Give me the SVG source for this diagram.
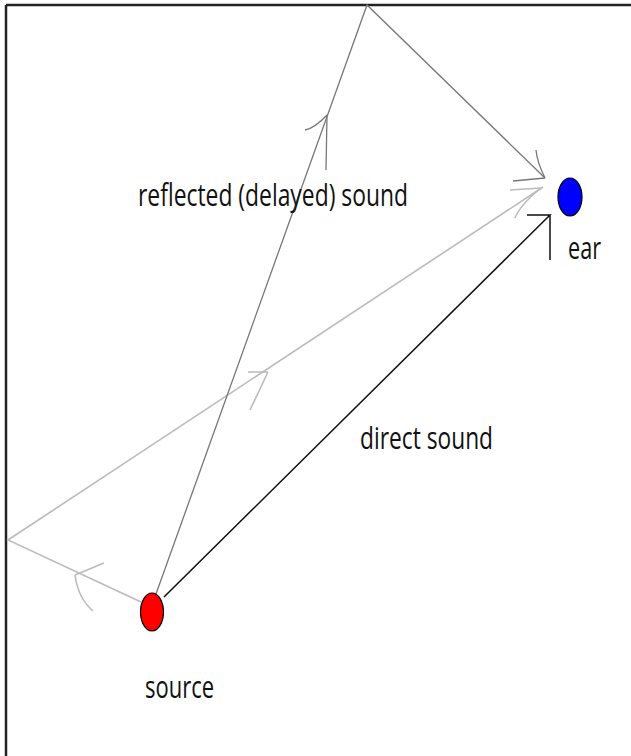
<svg xmlns="http://www.w3.org/2000/svg" width="631" height="756" viewBox="0 0 631 756">
<style>
.t{font-family:"Open Sans","DejaVu Sans",sans-serif;font-size:31px;fill:#111}
.dg{stroke:#777;stroke-width:1.3;fill:none}
.lg{stroke:#bbb;stroke-width:1.6;fill:none}
.bk{stroke:#111;stroke-width:1.5;fill:none}
</style>
<rect width="631" height="756" fill="#fff"/>
<g id="frame">
<line x1="6" y1="5" x2="631" y2="5" stroke="#222" stroke-width="2.5"/>
<line x1="6" y1="5" x2="6" y2="756" stroke="#222" stroke-width="2.5"/>
</g>
<g id="connectors">
<path class="lg" d="M141,602 L8,540 L543,187"/>
<path class="lg" d="M75,575 L104,563 M75,575 Q78,598 93,611"/>
<path class="lg" d="M268,372 L248,372 M268,372 L250,410"/>
<path class="lg" d="M541,188 L510,190 M541,188 Q520,205 515,218"/>
<path class="dg" d="M156,594 L367,5 L545,178"/>
<path class="dg" d="M327,115 L326,170 M327,115 Q315,128 305,130"/>
<path class="dg" d="M545,178 L513,181 M545,178 Q537,162 536,150"/>
<path class="bk" d="M164,597 L550,215 L527,215 M550,215 L550,260"/>
</g>
<g id="source">
<ellipse cx="152" cy="612" rx="11.5" ry="19" fill="#f00" stroke="#000" stroke-width="1.2"/>
<text class="t" x="145" y="698" textLength="69" lengthAdjust="spacingAndGlyphs">source</text>
</g>
<g id="ear">
<ellipse cx="570" cy="197" rx="12" ry="19" fill="#00f" stroke="#000" stroke-width="1.2"/>
<text class="t" x="568" y="259" textLength="33" lengthAdjust="spacingAndGlyphs">ear</text>
</g>
<g id="labels">
<text class="t" x="138" y="206" textLength="270" lengthAdjust="spacingAndGlyphs">reflected (delayed) sound</text>
<text class="t" x="360" y="449" textLength="133" lengthAdjust="spacingAndGlyphs">direct sound</text>
</g>
</svg>
